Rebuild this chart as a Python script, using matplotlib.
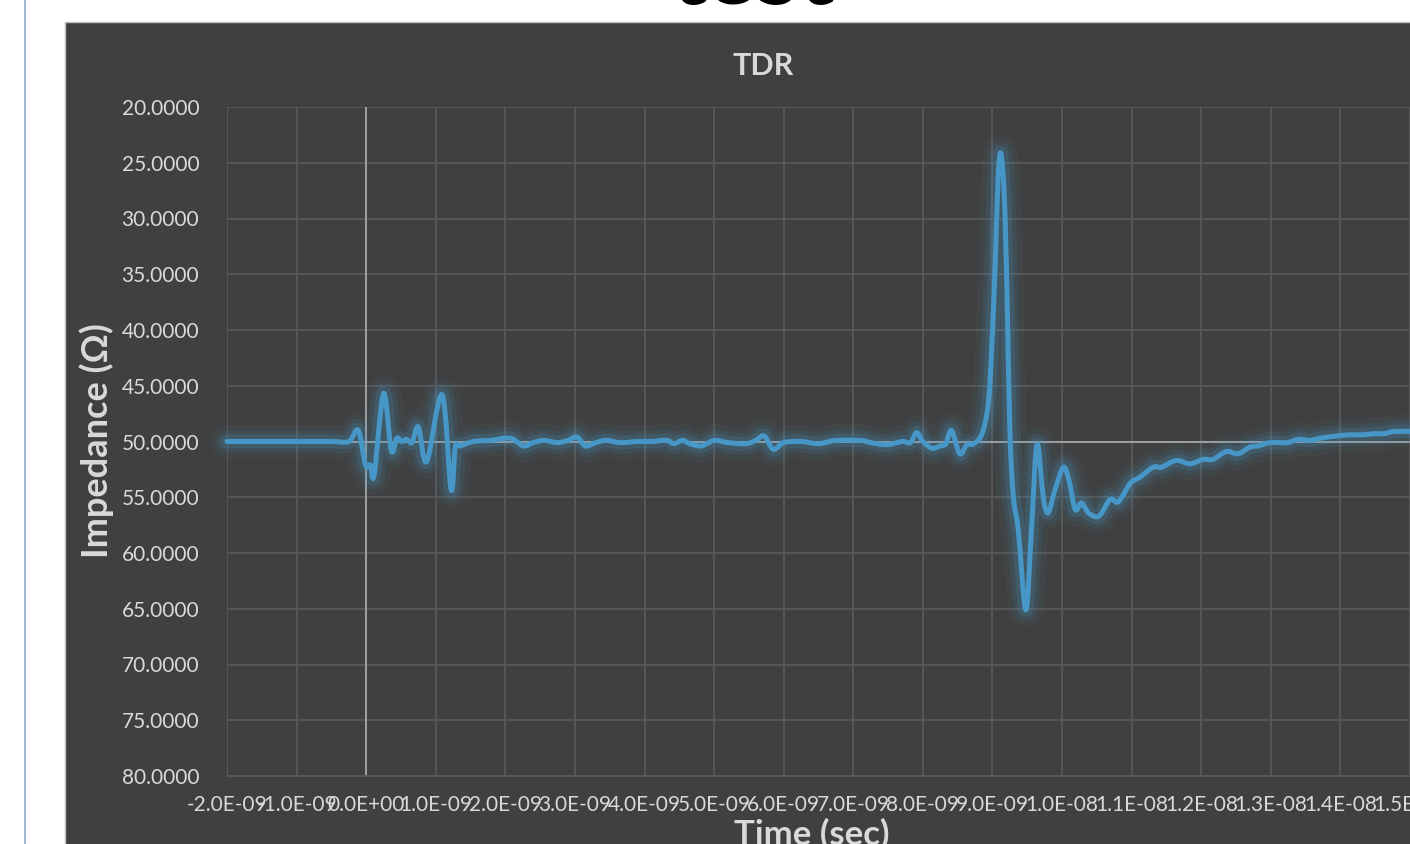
"""
TDR impedance trace, dark Excel-style chart on a white slide.
"""
import numpy as np
import matplotlib.pyplot as plt
import matplotlib.patheffects as pe
from matplotlib.patches import Rectangle, PathPatch
from matplotlib.lines import Line2D
from matplotlib.path import Path
from matplotlib.ticker import FormatStrFormatter, MultipleLocator

# time in ns (scaled to seconds below), impedance in ohms
time_ns = [
    -2.0, -1.5, -1.0, -0.5, -0.25, -0.115, -0.01, 0.06, 0.115, 0.25, 0.36,
    0.44, 0.51, 0.58, 0.66, 0.75, 0.87, 1.09, 1.22, 1.28, 1.35, 1.54, 1.78,
    2.07, 2.26, 2.4, 2.55, 2.75, 2.9, 3.03, 3.15, 3.3, 3.45, 3.65, 3.9,
    4.1, 4.32, 4.42, 4.55, 4.65, 4.82, 5.0, 5.2, 5.45, 5.6, 5.72, 5.85,
    6.0, 6.25, 6.5, 6.75, 7.1, 7.25, 7.48, 7.7, 7.82, 7.91, 8.0, 8.13,
    8.25, 8.33, 8.41, 8.53, 8.63, 8.73, 8.85, 8.94, 8.99, 9.04, 9.08,
    9.12, 9.17, 9.21, 9.25, 9.30, 9.37, 9.48, 9.56, 9.64, 9.73, 9.80,
    9.90, 10.02, 10.10, 10.19, 10.28, 10.38, 10.53, 10.69, 10.81, 10.98,
    11.12, 11.31, 11.43, 11.64, 11.84, 12.03, 12.17, 12.36, 12.53, 12.70,
    12.82, 12.99, 13.23, 13.40, 13.56, 13.71, 13.95, 14.14, 14.31, 14.48,
    14.62, 14.77, 15.0,
]
impedance = [
    50.0, 50.0, 50.0, 50.0, 50.0, 49.0, 52.1, 52.1, 53.0, 45.7, 50.8,
    49.7, 50.0, 49.8, 50.1, 48.7, 51.8, 45.8, 54.3, 50.5, 50.4, 50.0, 49.9,
    49.7, 50.4, 50.1, 49.9, 50.1, 49.9, 49.6, 50.4, 50.1, 49.9, 50.1, 50.0,
    50.0, 49.9, 50.2, 49.9, 50.2, 50.4, 49.9, 50.1, 50.2, 49.9, 49.5, 50.7,
    50.1, 50.0, 50.2, 49.9, 49.9, 50.1, 50.3, 50.0, 50.1, 49.2, 50.0, 50.6,
    50.4, 50.2, 49.0, 51.1, 50.3, 50.2, 49.3, 46.6, 41.5, 34.0, 26.5,
    24.15, 28.0, 37.0, 49.0, 54.95, 57.9, 65.1, 57.9, 50.3, 55.0, 56.4,
    54.3, 52.3, 53.5, 56.1, 55.5, 56.4, 56.7, 55.2, 55.4, 53.75,
    53.2, 52.3, 52.3, 51.7, 52.0, 51.6, 51.6, 50.9, 51.1, 50.5,
    50.4, 50.1, 50.1, 49.8, 49.9, 49.7, 49.5, 49.4, 49.4, 49.3,
    49.3, 49.1, 49.1,
]
time_s = np.array(time_ns) * 1e-9

W, H = 1410, 844
BG = '#404040'
TXT = '#d9d9d9'
LINE = '#4697c8'

plt.rcParams['font.family'] = ['Lato', 'DejaVu Sans']


def smooth_path(x, y, tension=1 / 6):
    """Excel-like smoothed line: Catmull-Rom segments as cubic Beziers."""
    pts = np.column_stack([x, y])
    padded = np.vstack([pts[0], pts, pts[-1]])
    verts = [pts[0]]
    codes = [Path.MOVETO]
    for i in range(len(pts) - 1):
        p0, p1, p2, p3 = padded[i], padded[i + 1], padded[i + 2], padded[i + 3]
        verts += [p1 + (p2 - p0) * tension, p2 - (p3 - p1) * tension, p2]
        codes += [Path.CURVE4] * 3
    return Path(verts, codes)


fig = plt.figure(figsize=(W / 100, H / 100), dpi=100)
fig.patch.set_facecolor('white')

# slide decorations: left border line and dark chart panel
fig.add_artist(Line2D([25 / W, 25 / W], [0, 1], color='#8faad0', lw=1.2,
                      zorder=-2))
fig.add_artist(Rectangle((65 / W, -0.01), 1.0, 1 - 22 / H + 0.01,
                         facecolor=BG, edgecolor='#bfbfbf', lw=1.0,
                         zorder=-2))
# slide title, mostly above the visible area
fig.text(752 / W, 1 - 4 / H, 'test', ha='center', va='baseline',
         fontsize=68, fontweight='black', color='black')

ax = fig.add_axes([227 / W, 1 - 776 / H, (1410 - 227) / W, (776 - 107) / H])
ax.set_zorder(2)
ax.set_facecolor(BG)
ax.set_xlim(-2e-9, 1.5e-8)
ax.set_ylim(80, 20)

ax.xaxis.set_major_locator(MultipleLocator(1e-9))
ax.yaxis.set_major_locator(MultipleLocator(5))
ax.xaxis.set_major_formatter(FormatStrFormatter('%.1E'))
ax.yaxis.set_major_formatter(FormatStrFormatter('%.4f'))
ax.tick_params(axis='both', length=0, colors=TXT, labelsize=15)
ax.tick_params(axis='x', pad=14)
ax.tick_params(axis='y', pad=20)
ax.grid(True, color='#595959', lw=1.3)
ax.set_axisbelow(True)
for s in ax.spines.values():
    s.set_visible(False)
ax.spines['bottom'].set_visible(True)
ax.spines['bottom'].set_color('#595959')
ax.spines['bottom'].set_linewidth(1.3)

# axis lines crossing at t=0 and 50 ohm
ax.axhline(50, color='#a6a6a6', lw=1.3, zorder=1.5)
ax.axvline(0, color='#a6a6a6', lw=1.3, zorder=1.5)

glow = [
    pe.Stroke(linewidth=24, foreground=LINE, alpha=0.06),
    pe.Stroke(linewidth=16, foreground=LINE, alpha=0.10),
    pe.Stroke(linewidth=10, foreground=LINE, alpha=0.18),
    pe.Normal(),
]
trace = PathPatch(smooth_path(time_s, impedance), facecolor='none',
                  edgecolor=LINE, lw=3.6, joinstyle='round', capstyle='round',
                  path_effects=glow, zorder=3, clip_on=False)
ax.add_patch(trace)

fig.text(763 / W, 1 - 66 / H, 'TDR', ha='center', va='center',
         fontsize=22, fontweight='bold', color=TXT)
fig.text(97 / W, 1 - 441 / H, 'Impedance (Ω)', ha='center', va='center',
         rotation=90, fontsize=26, fontweight='bold', color=TXT)
fig.text(812 / W, 1 - 834 / H, 'Time (sec)', ha='center', va='center',
         fontsize=25, fontweight='bold', color=TXT)

fig.savefig('out.png', dpi=100, facecolor=fig.get_facecolor())
